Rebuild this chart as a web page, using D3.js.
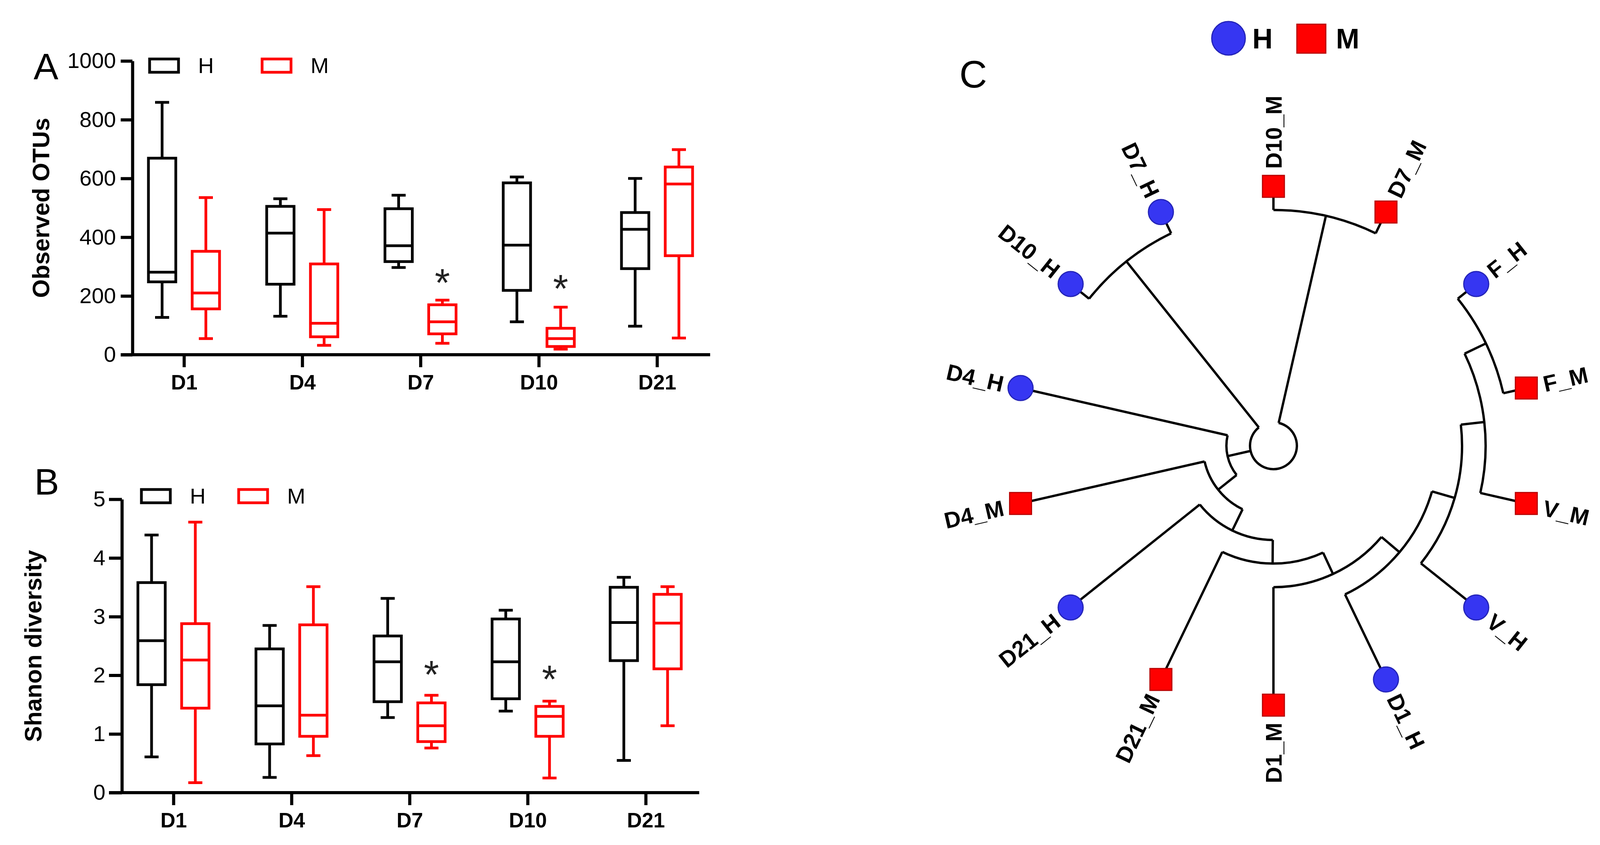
<!DOCTYPE html>
<html>
<head>
<meta charset="utf-8">
<script src="https://cdn.jsdelivr.net/npm/d3@7"></script>
<style>
  body { margin: 0; background: #fff; }
  text { font-family: "Liberation Sans", Arial, sans-serif; }
</style>
</head>
<body>
<div id="chart"></div>
<script>
// ---- data ----
const days = ["D1", "D4", "D7", "D10", "D21"];
const groups = ["H", "M"];

// box stats per day: [min, q1, median, q3, max]
const otuH = [[127, 248, 281, 669, 859], [131, 240, 414, 505, 531], [297, 317, 371, 497, 543], [112, 219, 373, 585, 605], [97, 293, 427, 484, 600]];
const otuM = [[55, 156, 210, 352, 535], [32, 61, 107, 309, 494], [39, 71, 112, 170, 186], [19, 28, 55, 90, 162], [57, 337, 581, 639, 698]];
const otuStars = [["D7", 261], ["D10", 241]];
const otuTicks = [0, 200, 400, 600, 800, 1000];

const shH = [[0.61, 1.84, 2.59, 3.58, 4.39], [0.26, 0.83, 1.48, 2.45, 2.85], [1.28, 1.55, 2.23, 2.67, 3.31], [1.39, 1.60, 2.23, 2.96, 3.11], [0.55, 2.25, 2.90, 3.50, 3.67]];
const shM = [[0.17, 1.44, 2.26, 2.88, 4.61], [0.63, 0.96, 1.32, 2.86, 3.51], [0.76, 0.87, 1.14, 1.53, 1.66], [0.25, 0.96, 1.30, 1.47, 1.56], [1.14, 2.11, 2.89, 3.38, 3.51]];
const shStars = [["D7", 2.09], ["D10", 2.01]];
const shTicks = [0, 1, 2, 3, 4, 5];

// dendrogram: node, parent, distance from root
const treeIds = ["root", "DM", "N1", "DH", "D10_M", "D7_M", "N2", "D4_H", "N3", "D4_M", "N4", "D21_H", "N5", "D21_M", "NR", "D1_M", "NFVV", "D1_H", "NFV", "V_H", "NF", "V_M", "F_H", "F_M", "D10_H", "D7_H"];
const treeParents = [null, "root", "root", "root", "DM", "DM", "N1", "N1", "N2", "N2", "N3", "N3", "N4", "N4", "N5", "N5", "NR", "NR", "NFVV", "NFVV", "NFV", "NFV", "NF", "NF", "DH", "DH"];
const treeDist = [0, 9, 1, 9, 10, 10, 2, 10, 3, 10, 4, 10, 5, 10, 6, 10, 7, 10, 8, 10, 9, 10, 10, 10, 10, 10];

const W = 4117, H = 2163;
const color = {H: "#000000", M: "#ff0000"};

const svg = d3.select("#chart").append("svg")
    .attr("width", W)
    .attr("height", H)
    .attr("viewBox", [0, 0, W, H]);

svg.append("rect").attr("width", W).attr("height", H).attr("fill", "#fff");

function boxPanel(o) {
  const g = svg.append("g");
  const y = d3.scaleLinear().domain([0, o.max]).range([o.y0, o.y1]);
  const x = d3.scalePoint().domain(days).range([o.xFirst, o.xLast]);

  // y axis
  const ya = g.append("g")
      .attr("transform", `translate(${o.axisX},0)`)
      .call(d3.axisLeft(y).tickValues(o.ticks).tickSize(o.tick).tickSizeOuter(0)
        .tickPadding(o.pad).tickFormat(d3.format("d")));
  ya.selectAll("path, line").attr("stroke", "#000").attr("stroke-width", 8);
  ya.selectAll("text").attr("font-size", 56).attr("fill", "#000");

  // x axis
  g.append("line")
      .attr("x1", o.axisX - o.tick).attr("x2", o.xEnd)
      .attr("y1", o.y0).attr("y2", o.y0)
      .attr("stroke", "#000").attr("stroke-width", 8);
  const xa = g.append("g")
      .attr("transform", `translate(0,${o.y0})`)
      .call(d3.axisBottom(x).tickSize(32).tickSizeOuter(0).tickPadding(19));
  xa.select(".domain").remove();
  xa.selectAll("line").attr("stroke", "#000").attr("stroke-width", 8);
  xa.selectAll("text").attr("font-size", 53).attr("font-weight", "bold").attr("fill", "#000");

  // boxes
  const bw = 70, cap = 36, off = 56;
  groups.forEach((grp, gi) => {
    const stats = gi === 0 ? o.h : o.m;
    const col = color[grp];
    const bx = g.append("g")
        .attr("stroke", col).attr("stroke-width", 7).attr("fill", "none")
      .selectAll("g")
      .data(days)
      .join("g")
        .attr("transform", d => `translate(${x(d) + (gi === 0 ? -off : off)},0)`);
    bx.append("line")
        .attr("y1", (d, i) => y(stats[i][0])).attr("y2", (d, i) => y(stats[i][1]));
    bx.append("line")
        .attr("y1", (d, i) => y(stats[i][3])).attr("y2", (d, i) => y(stats[i][4]));
    bx.append("line")
        .attr("x1", -cap / 2).attr("x2", cap / 2)
        .attr("y1", (d, i) => y(stats[i][0])).attr("y2", (d, i) => y(stats[i][0]));
    bx.append("line")
        .attr("x1", -cap / 2).attr("x2", cap / 2)
        .attr("y1", (d, i) => y(stats[i][4])).attr("y2", (d, i) => y(stats[i][4]));
    bx.append("rect")
        .attr("x", -bw / 2).attr("width", bw)
        .attr("y", (d, i) => y(stats[i][3]))
        .attr("height", (d, i) => y(stats[i][1]) - y(stats[i][3]));
    bx.append("line")
        .attr("x1", -bw / 2).attr("x2", bw / 2)
        .attr("y1", (d, i) => y(stats[i][2])).attr("y2", (d, i) => y(stats[i][2]));
  });

  // significance stars
  g.selectAll(".star")
    .data(o.stars)
    .join("text")
      .attr("x", d => x(d[0]) + off)
      .attr("y", d => y(d[1]) + 46)
      .attr("text-anchor", "middle")
      .attr("font-size", 100)
      .attr("fill", "#222")
      .text("*");

  // legend
  groups.forEach((grp, gi) => {
    g.append("rect")
        .attr("x", o.legX[gi]).attr("y", o.legY)
        .attr("width", 74).attr("height", 34)
        .attr("fill", "none").attr("stroke", color[grp]).attr("stroke-width", 7);
    g.append("text")
        .attr("x", o.legX[gi] + 124).attr("y", o.legY + 36)
        .attr("font-size", 56).text(grp);
  });

  // axis title
  g.append("text")
      .attr("transform", `translate(${o.titleX},${(o.y0 + o.y1) / 2}) rotate(-90)`)
      .attr("text-anchor", "middle")
      .attr("font-size", 61).attr("font-weight", "bold")
      .text(o.title);

  // panel letter
  g.append("text")
      .attr("x", o.letterX).attr("y", o.letterY)
      .attr("font-size", 95)
      .text(o.letter);
}

boxPanel({
  h: otuH, m: otuM, stars: otuStars, ticks: otuTicks, max: 1000,
  y0: 908, y1: 156, axisX: 339, tick: 30, pad: 12,
  xFirst: 471, xLast: 1682, xEnd: 1818,
  legX: [383, 671], legY: 151,
  title: "Observed OTUs", titleX: 126,
  letter: "A", letterX: 86, letterY: 203
});

boxPanel({
  h: shH, m: shM, stars: shStars, ticks: shTicks, max: 5,
  y0: 2029, y1: 1278, axisX: 312, tick: 33, pad: 9,
  xFirst: 444, xLast: 1653, xEnd: 1790,
  legX: [362, 611], legY: 1253,
  title: "Shanon diversity", titleX: 106,
  letter: "B", letterX: 88, letterY: 1266
});

// ---- panel C: circular dendrogram ----
const cx = 3260, cy = 1141;
const rScale = d3.scaleLinear().domain([0, 10]).range([60, 664]);

const rows = treeIds.map((id, i) => ({id: id, parent: treeParents[i], dist: treeDist[i]}));
const root = d3.stratify().id(d => d.id).parentId(d => d.parent)(rows);
const leaves = root.leaves();
const aScale = d3.scaleLinear().domain([0, leaves.length]).range([0, 2 * Math.PI]);
leaves.forEach((d, i) => d.angle = aScale(i));
root.eachAfter(d => {
  if (d.children) d.angle = (d.children[0].angle + d.children[d.children.length - 1].angle) / 2;
});

function pt(r, a) { return [cx + r * Math.sin(a), cy - r * Math.cos(a)]; }

const tree = svg.append("g")
    .attr("fill", "none").attr("stroke", "#000").attr("stroke-width", 6);

// radial branches
tree.selectAll(".link")
  .data(root.descendants().filter(d => d.parent))
  .join("path")
    .attr("d", d => {
      const p = d3.path();
      const a = pt(rScale(d.parent.data.dist), d.angle);
      const b = pt(rScale(d.data.dist), d.angle);
      p.moveTo(a[0], a[1]);
      p.lineTo(b[0], b[1]);
      return p.toString();
    });

// arcs joining children
tree.selectAll(".arc")
  .data(root.descendants().filter(d => d.children))
  .join("path")
    .attr("d", d => {
      const r = rScale(d.data.dist);
      const a0 = d.children[0].angle, a1 = d.children[d.children.length - 1].angle;
      const p = d3.path();
      const s = pt(r, a0);
      p.moveTo(s[0], s[1]);
      p.arc(cx, cy, r, a0 - Math.PI / 2, a1 - Math.PI / 2, false);
      return p.toString();
    });

// leaf markers
const leafG = svg.append("g")
  .selectAll("g")
  .data(leaves)
  .join("g")
    .attr("transform", d => `translate(${pt(rScale(d.data.dist), d.angle)})`);

leafG.filter(d => d.id.endsWith("_H")).append("circle")
    .attr("r", 32).attr("fill", "#3636f2").attr("stroke", "#2424b8").attr("stroke-width", 3);
leafG.filter(d => d.id.endsWith("_M")).append("rect")
    .attr("x", -28).attr("y", -28).attr("width", 56).attr("height", 56)
    .attr("fill", "#ff0000").attr("stroke", "#b80000").attr("stroke-width", 3);

// leaf labels
svg.append("g")
  .selectAll("text")
  .data(leaves)
  .join("text")
    .attr("transform", d => {
      const deg = d.angle * 180 / Math.PI;
      const rot = deg < 180 ? deg - 90 : deg + 90;
      return `translate(${pt(rScale(10) + 45, d.angle)}) rotate(${rot})`;
    })
    .attr("text-anchor", d => d.angle < Math.PI ? "start" : "end")
    .attr("dy", "0.36em")
    .attr("font-size", 58).attr("font-weight", "bold")
    .text(d => d.id);

// legend C
svg.append("circle").attr("cx", 3145).attr("cy", 98).attr("r", 43)
    .attr("fill", "#3636f2").attr("stroke", "#2424b8").attr("stroke-width", 3);
svg.append("text").attr("x", 3206).attr("y", 124).attr("font-size", 72).attr("font-weight", "bold").text("H");
svg.append("rect").attr("x", 3320).attr("y", 62).attr("width", 74).attr("height", 74)
    .attr("fill", "#ff0000").attr("stroke", "#b80000").attr("stroke-width", 3);
svg.append("text").attr("x", 3420).attr("y", 124).attr("font-size", 72).attr("font-weight", "bold").text("M");

svg.append("text")
    .attr("x", 2456).attr("y", 224)
    .attr("font-family", "'Open Sans', 'Noto Sans', sans-serif")
    .attr("font-size", 98)
    .text("C");
</script>
</body>
</html>
